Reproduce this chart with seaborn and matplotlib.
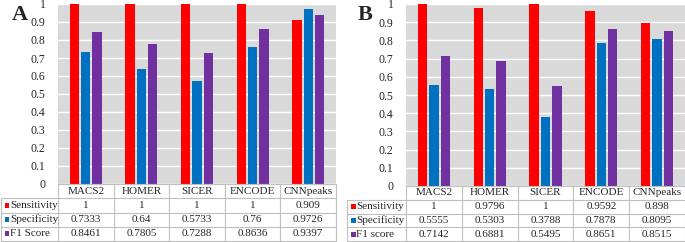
import matplotlib
matplotlib.use("Agg")
import matplotlib.pyplot as plt
import seaborn as sns
import pandas as pd
from matplotlib.patches import Rectangle

categories = ["MACS2", "HOMER", "SICER", "ENCODE", "CNNpeaks"]
metrics_a = ["Sensitivity", "Specificity", "F1 Score"]
metrics_b = ["Sensitivity", "Specificity", "F1 score"]

sens_a = [1, 1, 1, 1, 0.909]
spec_a = [0.7333, 0.64, 0.5733, 0.76, 0.9726]
f1_a = [0.8461, 0.7805, 0.7288, 0.8636, 0.9397]
labels_a = [["1", "1", "1", "1", "0.909"],
            ["0.7333", "0.64", "0.5733", "0.76", "0.9726"],
            ["0.8461", "0.7805", "0.7288", "0.8636", "0.9397"]]

sens_b = [1, 0.9796, 1, 0.9592, 0.898]
spec_b = [0.5555, 0.5303, 0.3788, 0.7878, 0.8095]
f1_b = [0.7142, 0.6881, 0.5495, 0.8651, 0.8515]
labels_b = [["1", "0.9796", "1", "0.9592", "0.898"],
            ["0.5555", "0.5303", "0.3788", "0.7878", "0.8095"],
            ["0.7142", "0.6881", "0.5495", "0.8651", "0.8515"]]

yticks = [0, 0.1, 0.2, 0.3, 0.4, 0.5, 0.6, 0.7, 0.8, 0.9, 1]
ytick_labels = ["0", "0.1", "0.2", "0.3", "0.4", "0.5", "0.6", "0.7", "0.8", "0.9", "1"]
colors = ["#FF0000", "#0070C0", "#7030A0"]

sns.set_theme(style="white")
plt.rcParams["font.family"] = ["Liberation Serif", "DejaVu Serif"]

W, H = 685, 242
fig = plt.figure(figsize=(6.85, 2.42), dpi=100)

def fx(px):
    return px / W

def fy(py):
    return 1 - py / H

GRID = "#BFBFBF"

def panel(letter, letter_xy, plot_l, plot_r, plot_top, plot_bot, table_l, table_bot,
          metrics, series, labels):
    ax = fig.add_axes([fx(plot_l), fy(plot_bot), fx(plot_r - plot_l), (plot_bot - plot_top) / H])
    df = pd.DataFrame({
        "cat": categories * 3,
        "metric": sum([[m] * len(categories) for m in metrics], []),
        "val": sum([list(s) for s in series], []),
    })
    sns.barplot(data=df, x="cat", y="val", hue="metric", palette=colors,
                width=0.61, gap=0.17, ax=ax, legend=False, saturation=1,
                edgecolor="none")
    ax.set_facecolor("#D9D9D9")
    ax.set_ylim(0, 1)
    ax.set_xlim(-0.5, 4.5)
    ax.set_yticks(yticks)
    ax.set_yticklabels(ytick_labels, fontsize=8.5)
    ax.tick_params(axis="y", length=0, pad=9)
    ax.set_xticks([])
    ax.set_xlabel("")
    ax.set_ylabel("")
    ax.yaxis.grid(True, color="white", linewidth=1.0)
    ax.set_axisbelow(True)
    for s in ax.spines.values():
        s.set_visible(False)

    # table axes
    tax = fig.add_axes([fx(plot_l), fy(table_bot), fx(plot_r - plot_l), (table_bot - plot_bot) / H],
                       sharex=ax)
    tax.set_ylim(4, 0)
    tax.axis("off")
    unit = (plot_r - plot_l) / 5.0
    lw = (plot_l - table_l) / unit
    x0 = -0.5 - lw
    kw = dict(color=GRID, linewidth=0.8, clip_on=False)
    tax.plot([-0.5, 4.5], [0, 0], **kw)
    for yy in [1, 2, 3, 4]:
        tax.plot([x0, 4.5], [yy, yy], **kw)
    tax.plot([x0, x0], [1, 4], **kw)
    for i in range(6):
        tax.plot([-0.5 + i, -0.5 + i], [0, 4], **kw)
    for i, c in enumerate(categories):
        tax.text(i, 0.5, c, ha="center", va="center", fontsize=8, clip_on=False)
    for r in range(3):
        for i in range(5):
            tax.text(i, r + 1.5, labels[r][i], ha="center", va="center", fontsize=8, clip_on=False)
        sq = 5.0 / unit
        tax.add_patch(Rectangle((x0 + 3.5 / unit, r + 1.5 - 0.18), sq, 0.36,
                                facecolor=colors[r], edgecolor="none", clip_on=False))
        tax.text(x0 + 9.5 / unit, r + 1.5, metrics[r], ha="left", va="center",
                 fontsize=8, clip_on=False)

    fig.text(fx(letter_xy[0]), fy(letter_xy[1]), letter, fontsize=16, fontweight="bold",
             ha="center", va="center")
    return ax

panel("A", (20, 15), 58, 336, 4, 184, 1, 241, metrics_a, [sens_a, spec_a, f1_a], labels_a)
panel("B", (365, 15.5), 406, 685, 4, 186, 347, 241, metrics_b, [sens_b, spec_b, f1_b], labels_b)

fig.savefig("out.png", dpi=100)
